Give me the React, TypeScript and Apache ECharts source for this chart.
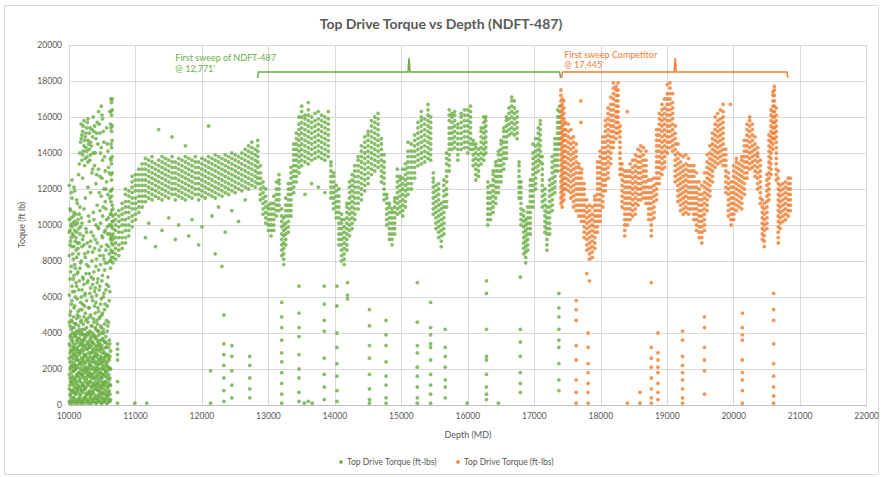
import React, { useEffect, useRef } from "react";
import * as echarts from "echarts";

// ---- DATA: each row = [depth (ft), torque readings (ft-lbs) seen at that depth ...]
const greenEarly: number[][] = [
  [10005, 200, 900, 1700, 2600, 3400, 4600, 6100, 8300, 9600, 10300, 12200],
  [10015, 100, 600, 1100, 1500, 2000, 2400, 2900, 3300, 3800, 4400, 5000, 7000, 8900, 9700, 10900],
  [10025, 500, 1300, 2100, 3000, 3900, 5200, 7400, 9100, 10000, 10800],
  [10035, 300, 800, 1300, 1800, 2200, 2700, 3100, 3700, 4200, 4700, 5600, 7700, 9300, 10400, 11800],
  [10045, 100, 800, 1500, 2400, 3600, 4300, 5800, 6600, 8800, 9900, 11500, 12500],
  [10055, 200, 700, 1200, 1600, 2100, 2600, 3000, 3500, 4000, 4600, 6300, 8400, 9500, 10100],
  [10065, 400, 1100, 1900, 2800, 3300, 4900, 7000, 8100, 9400, 10500],
  [10075, 400, 900, 1400, 1900, 2300, 2800, 3200, 3800, 4300, 5400, 7200, 8800, 10700, 12100],
  [10085, 200, 700, 1400, 2200, 3100, 4000, 5500, 6300, 7800, 9700, 10200, 11900],
  [10095, 100, 600, 1000, 1500, 2000, 2500, 2900, 3400, 3900, 4500, 6000, 7600, 9100, 10000],
  [10105, 600, 1200, 2000, 2700, 3800, 4500, 6800, 8600, 9300, 10600],
  [10115, 300, 800, 1300, 1700, 2200, 2700, 3100, 3600, 4100, 4800, 6600, 8200, 9600, 11400],
  [10125, 100, 900, 1600, 2500, 3200, 5000, 5900, 7300, 9000, 10100, 11200],
  [10135, 200, 700, 1100, 1600, 2100, 2500, 3000, 3500, 4000, 5200, 7400, 8700, 10300],
  [10145, 300, 1000, 1800, 2900, 3700, 4400, 6400, 8400, 9800, 12800],
  [10155, 400, 900, 1400, 1800, 2300, 2800, 3300, 3700, 4200, 4900, 6900, 9000, 10600, 13400],
  [10165, 500, 1300, 2300, 3000, 4100, 5300, 7600, 9500, 11000, 14000],
  [10175, 100, 600, 1000, 1500, 2000, 2400, 2900, 3400, 3900, 4600, 5700, 7900, 9900, 14600],
  [10185, 200, 800, 1700, 2600, 3500, 4700, 6000, 8000, 10400, 14800, 15600],
  [10195, 300, 800, 1200, 1700, 2200, 2600, 3100, 3600, 4000, 5300, 6400, 8800, 10100, 13600, 15000],
  [10205, 100, 1100, 1900, 2400, 3300, 4200, 5600, 7100, 9200, 12600, 13900, 15200],
  [10215, 200, 700, 1100, 1600, 2000, 2500, 3000, 3400, 3900, 4500, 7000, 9400, 14100, 15500],
  [10225, 400, 1000, 1500, 2800, 3600, 4900, 6700, 8900, 10900, 14400, 15800],
  [10235, 400, 900, 1300, 1800, 2300, 2700, 3200, 3700, 4200, 5500, 6100, 8400, 13300, 14700],
  [10245, 300, 900, 2100, 2700, 3900, 5100, 6200, 8200, 11500, 13700, 14900],
  [10255, 100, 500, 1000, 1500, 1900, 2400, 2800, 3300, 3800, 4700, 7300, 9800, 14300, 15100],
  [10265, 600, 1400, 2000, 3100, 4300, 5800, 7800, 9600, 14100, 15400],
  [10275, 300, 700, 1200, 1700, 2100, 2600, 3100, 3500, 4000, 4800, 6800, 9000, 13800, 15700],
  [10285, 200, 1200, 1800, 2500, 3400, 4600, 6900, 8500, 12100, 13500, 14700, 15900],
  [10295, 200, 600, 1100, 1600, 2000, 2500, 2900, 3400, 3900, 5400, 7700, 10500, 14500],
  [10305, 100, 700, 1600, 2300, 3200, 4000, 5400, 7300, 10200, 14200, 15100],
  [10315, 400, 800, 1300, 1800, 2200, 2700, 3200, 3600, 4100, 4900, 6200, 8800, 13600, 15400],
  [10325, 500, 1300, 2200, 2900, 3700, 5000, 6500, 9100, 11800, 13900, 14600],
  [10335, 100, 600, 1000, 1500, 2000, 2400, 2900, 3300, 3800, 4400, 7100, 9600, 14400],
  [10345, 300, 1000, 1700, 2600, 3500, 4400, 6000, 8000, 12900, 15300],
  [10355, 300, 700, 1200, 1700, 2100, 2600, 3000, 3500, 4000, 5800, 6700, 8500, 13100, 14900],
  [10365, 200, 800, 1500, 2400, 3100, 4800, 7000, 9400, 10700, 14000, 16000],
  [10375, 200, 600, 1100, 1500, 2000, 2500, 2900, 3400, 3900, 4600, 7400, 10300, 15200],
  [10385, 400, 1100, 1900, 2700, 3800, 5500, 6300, 8700, 13300, 15500],
  [10395, 400, 900, 1300, 1800, 2300, 2700, 3200, 3700, 4300, 5100, 6500, 9200, 14000],
  [10405, 100, 900, 1600, 2100, 3000, 4200, 5700, 7700, 10000, 12300, 14800],
  [10415, 100, 500, 1000, 1500, 1900, 2400, 2800, 3300, 3800, 4700, 6100, 8100, 12800, 15100],
  [10425, 300, 1200, 2000, 2800, 3600, 4500, 6800, 9000, 11100, 15700],
  [10435, 300, 800, 1200, 1700, 2200, 2600, 3100, 3500, 4100, 5400, 7000, 9900, 14500],
  [10445, 500, 800, 1400, 2300, 3300, 4100, 5200, 7500, 9800, 13100, 16300],
  [10455, 200, 600, 1100, 1600, 2000, 2500, 3000, 3400, 3900, 4800, 6400, 8600, 11800, 15600],
  [10465, 200, 1000, 1800, 2500, 3400, 4900, 6600, 8300, 10800, 12700, 15100],
  [10475, 400, 900, 1300, 1800, 2300, 2700, 3200, 3600, 4400, 5600, 7800, 10100, 14000],
  [10485, 100, 700, 1500, 2600, 3100, 4300, 5900, 8800, 11600, 14300, 16600],
  [10495, 100, 600, 1000, 1500, 2000, 2400, 2900, 3300, 4000, 5000, 6900, 9400, 12600, 16100],
  [10505, 400, 1100, 1700, 2200, 3700, 5100, 7200, 9300, 10500, 13600, 15900],
  [10515, 300, 700, 1200, 1700, 2100, 2600, 3100, 3600, 4200, 6000, 8300, 11000, 15200],
  [10525, 200, 900, 1300, 2400, 2900, 4000, 6200, 8100, 12000, 14600],
  [10535, 200, 600, 1100, 1600, 2000, 2500, 2900, 3500, 4500, 5300, 7500, 9600, 13800],
  [10545, 300, 1200, 1900, 2700, 3500, 5600, 7900, 9700, 11300, 13000],
  [10555, 400, 800, 1300, 1800, 2200, 2700, 3200, 3800, 6400, 8600, 10900, 12000],
  [10565, 100, 600, 1600, 2300, 3200, 4700, 6700, 8900, 10300, 12400, 15400],
  [10575, 100, 500, 1000, 1500, 1900, 2400, 2800, 3400, 4100, 5500, 7900, 9900, 14500],
  [10585, 500, 1000, 2100, 2800, 4400, 7100, 9500, 11700, 14100],
  [10595, 300, 700, 1200, 1700, 2100, 2600, 3200, 4600, 6600, 8800, 10400, 13200],
  [10605, 200, 800, 1400, 2500, 3600, 5800, 8400, 10000, 12900],
  [10615, 200, 600, 1100, 1500, 2000, 2700, 3400, 6300, 8000, 9500, 11500, 16300],
  [10625, 300, 1100, 2000, 3000, 7600, 9200, 10600, 11900, 13700, 15600],
  [10632, 8000, 8600, 9300, 10000, 10600, 11300, 11900, 12800, 13600, 14500, 15400, 16300, 17000],
  [10640, 8200, 9000, 9900, 10800, 11600, 12500, 13400, 14300, 15200, 16100, 16800],
  [10650, 8500, 9400, 10200, 11100, 12000, 12900, 13800, 14700, 15500, 16400, 17000],
];

const greenBand: number[][] = [
  [10660, 7900, 8200, 8500, 8900, 9200, 9500, 9800, 10200, 10500, 10900],
  [10700, 8100, 8400, 8700, 9000, 9300, 9700, 10000, 10300, 10600],
  [10750, 8300, 8600, 8900, 9300, 9600, 9900, 10200, 10500, 10800],
  [10800, 8700, 9000, 9300, 9600, 10000, 10300, 10600, 10900, 11200],
  [10850, 9000, 9300, 9700, 10000, 10300, 10700, 11000, 11300, 11700, 12000],
  [10900, 9400, 9700, 10000, 10400, 10700, 11000, 11300, 11600, 11900],
  [10950, 9900, 10200, 10500, 10900, 11200, 11500, 11800, 12100, 12400, 12700],
  [11000, 10300, 10600, 10900, 11200, 11500, 11900, 12200, 12500, 12800],
  [11050, 10700, 11000, 11300, 11600, 11900, 12200, 12500, 12800, 13100],
  [11100, 11000, 11300, 11600, 11900, 12200, 12500, 12800, 13100, 13400],
  [11150, 11300, 11600, 11900, 12200, 12500, 12800, 13100, 13400, 13700, 9300],
  [11200, 11500, 11800, 12100, 12400, 12700, 13000, 13300, 13600, 10100],
  [11250, 11400, 11700, 12000, 12300, 12600, 12900, 13200, 13500, 13800],
  [11300, 11600, 11900, 12200, 12500, 12800, 13100, 13400, 8800],
  [11350, 11500, 11800, 12100, 12400, 12700, 13000, 13300, 13600, 15300],
  [11400, 11400, 11700, 12000, 12300, 12600, 12900, 13200, 13500, 13800, 9700],
  [11450, 11600, 11900, 12200, 12500, 12800, 13100, 13400, 13700],
  [11500, 11500, 11800, 12100, 12400, 12700, 13000, 13300, 13600, 10400],
  [11550, 11700, 12000, 12300, 12600, 12900, 13200, 13500, 13800, 14900],
  [11600, 11400, 11700, 12000, 12300, 12600, 12900, 13200, 13500, 9200],
  [11650, 11600, 11900, 12200, 12500, 12800, 13100, 13400, 13700, 10000],
  [11700, 11500, 11800, 12100, 12400, 12700, 13000, 13300, 13600],
  [11750, 11400, 11700, 12000, 12300, 12600, 12900, 13200, 13500, 13800, 14400],
  [11800, 11600, 11900, 12200, 12500, 12800, 13100, 13400, 13700, 9400],
  [11850, 11500, 11800, 12100, 12400, 12700, 13000, 13300, 13600, 10300],
  [11900, 11700, 12000, 12300, 12600, 12900, 13200, 13500, 13800],
  [11950, 11400, 11700, 12000, 12300, 12600, 12900, 13200, 13500, 8900],
  [12000, 11600, 11900, 12200, 12500, 12800, 13100, 13400, 13700, 9900],
  [12050, 11500, 11800, 12100, 12400, 12700, 13000, 13300, 13600],
  [12100, 11700, 12000, 12300, 12600, 12900, 13200, 13500, 13800, 15500],
  [12150, 11600, 11900, 12200, 12500, 12800, 13100, 13400, 13700, 10500],
  [12200, 11500, 11800, 12100, 12400, 12700, 13000, 13300, 13600, 13900, 8400],
  [12250, 11700, 12000, 12300, 12600, 12900, 13200, 13500, 13800, 11000],
  [12300, 11600, 11900, 12200, 12500, 12800, 13100, 13400, 13700, 7700],
  [12350, 11800, 12100, 12400, 12700, 13000, 13300, 13600, 13900, 9600],
  [12400, 11700, 12000, 12300, 12600, 12900, 13200, 13500, 13800],
  [12450, 11900, 12200, 12500, 12800, 13100, 13400, 13700, 14000, 10800],
  [12500, 11800, 12100, 12400, 12700, 13000, 13300, 13600, 13900],
  [12550, 12000, 12300, 12600, 12900, 13200, 13500, 13800, 10200],
  [12600, 11900, 12200, 12500, 12800, 13100, 13400, 13700, 14000],
  [12650, 12100, 12400, 12700, 13000, 13300, 13600, 13900, 14200, 11400],
  [12700, 12000, 12300, 12600, 12900, 13200, 13500, 13800, 14100, 14400],
  [12750, 12200, 12500, 12800, 13100, 13400, 13700, 14000, 14300, 14600],
  [12800, 12100, 12400, 12700, 13000, 13300, 13600, 13900, 14200],
  [12840, 12300, 12600, 12900, 13200, 13500, 13800, 14100, 14400, 14700],
  [12880, 11400, 11700, 12000, 12300, 12600, 12900, 13300],
  [12920, 10600, 10900, 11200, 11500, 11800, 12100, 12400],
  [12960, 10100, 10400, 10700, 11000, 11300, 11600, 12000],
  [13000, 9700, 10000, 10300, 10600, 10900, 11100],
  [13040, 9400, 9700, 10000, 10300, 10600, 10900, 11200],
  [13080, 9700, 10000, 10300, 10600, 10900, 11200, 11600],
  [13120, 10500, 10800, 11100, 11400, 11700, 12000, 12400],
  [13160, 10800, 11100, 11400, 11700, 12000, 12300, 12500, 12800],
  [13200, 8300, 8600, 8900, 9200, 9500, 9900, 10200, 10500, 10900],
  [13230, 7800, 8100, 8400, 8700, 9000, 9400, 9700, 10000, 10400],
  [13260, 8900, 9200, 9500, 9800, 10100, 10500, 10800, 11100, 11500],
  [13300, 9600, 9900, 10200, 10500, 10800, 11100, 11400, 11700, 12000, 12300],
  [13340, 10500, 10800, 11100, 11400, 11700, 12000, 12300, 12600, 12900, 13200],
  [13380, 11800, 12100, 12400, 12700, 13000, 13300, 13600, 13900, 14200, 14500],
  [13420, 12400, 12700, 13000, 13300, 13600, 13900, 14200, 14500, 14800, 15100],
  [13460, 12900, 13200, 13500, 13800, 14100, 14400, 14700, 15000, 15300, 15600, 16000],
  [13500, 13300, 13600, 13900, 14200, 14500, 14800, 15100, 15400, 15700, 16000, 16300, 16600],
  [13550, 13500, 13800, 14100, 14400, 14700, 15000, 15300, 15600, 15900, 16100, 11700],
  [13600, 13400, 13700, 14000, 14300, 14600, 14900, 15200, 15500, 15800, 16100, 16400, 16800],
  [13650, 13600, 13900, 14200, 14500, 14800, 15100, 15400, 15700, 16000, 12300],
  [13700, 13700, 14000, 14300, 14600, 14900, 15200, 15500, 15800, 16200],
  [13750, 13800, 14100, 14400, 14700, 15000, 15300, 15600, 15900, 16300, 12100],
  [13800, 13700, 14000, 14300, 14600, 14900, 15200, 15500, 15800, 16100],
  [13850, 13600, 13900, 14200, 14500, 14800, 15100, 15400, 15700, 16000, 11800],
  [13900, 13800, 14100, 14400, 14700, 15000, 15300, 15600, 15900, 16300],
  [13940, 11500, 11800, 12100, 12400, 12700, 13000, 13300, 13500],
  [13980, 10900, 11200, 11500, 11800, 12100, 12400, 12700, 12900],
  [14020, 10400, 10700, 11000, 11300, 11600, 11900, 12200],
  [14060, 8900, 9200, 9500, 9800, 10100, 10400, 10700, 11000, 11300, 11600, 12000],
  [14100, 8000, 8300, 8600, 8900, 9200, 9500, 9800, 10100, 10300, 10600],
  [14140, 7800, 8100, 8400, 8700, 9000, 9300, 9600, 9900, 10300],
  [14180, 8600, 8900, 9200, 9500, 9800, 10100, 10400, 10700, 11000, 11200],
  [14220, 9400, 9700, 10000, 10300, 10600, 10900, 11200, 11500, 11800, 12100, 12400],
  [14260, 9800, 10100, 10400, 10700, 11000, 11300, 11600, 11900, 12200, 12500, 12800],
  [14300, 10300, 10600, 10900, 11200, 11500, 11800, 12100, 12400, 12700, 13000, 13300],
  [14350, 10900, 11200, 11500, 11800, 12100, 12400, 12700, 13000, 13300, 13600, 13800],
  [14400, 11400, 11700, 12000, 12300, 12600, 12900, 13200, 13500, 13800, 14100, 14400],
  [14450, 11900, 12200, 12500, 12800, 13100, 13400, 13700, 14000, 14300, 14600, 14900],
  [14500, 12300, 12600, 12900, 13200, 13500, 13800, 14100, 14400, 14700, 15000, 15200],
  [14550, 12800, 13100, 13400, 13700, 14000, 14300, 14600, 14900, 15200, 15500, 15800],
  [14600, 13000, 13300, 13600, 13900, 14200, 14500, 14800, 15100, 15400, 15700, 16000],
  [14650, 13200, 13500, 13800, 14100, 14400, 14700, 15000, 15300, 15600, 15900, 16200],
  [14700, 12400, 12700, 13000, 13300, 13600, 13900, 14200, 14500, 14800],
  [14740, 11400, 11700, 12000, 12300, 12600, 12900, 13200, 13500, 13900],
  [14780, 10000, 10300, 10600, 10900, 11200, 11500, 11700],
  [14820, 9200, 9500, 9800, 10100, 10400, 10700, 11000, 11200],
  [14860, 8900, 9200, 9500, 9800, 10100, 10400, 10700, 10900],
  [14900, 9500, 9800, 10100, 10400, 10700, 11000, 11300, 11500],
  [14940, 10600, 10900, 11200, 11500, 11800, 12100, 12400, 12700, 13100],
  [14980, 10700, 11000, 11300, 11600, 11900, 12200, 12500, 12700],
  [15020, 10500, 10800, 11100, 11400, 11700, 12000, 12300, 12600, 13100],
  [15060, 11000, 11300, 11600, 11900, 12200, 12500, 12800, 13100, 13400],
  [15100, 11700, 12000, 12300, 12600, 12900, 13200, 13500, 13800, 14100, 14600],
  [15150, 12000, 12300, 12600, 12900, 13200, 13500, 13800, 14100, 14500],
  [15200, 12600, 12900, 13200, 13500, 13800, 14100, 14400, 14700, 15000],
  [15250, 13300, 13600, 13900, 14200, 14500, 14800, 15100, 15400, 15700],
  [15300, 13400, 13700, 14000, 14300, 14600, 14900, 15200, 15500, 15800, 16000, 16300],
  [15350, 13500, 13800, 14100, 14400, 14700, 15000, 15300, 15600, 15900],
  [15400, 13700, 14000, 14300, 14600, 14900, 15200, 15500, 15800, 16100, 16400, 16700],
  [15440, 13600, 13900, 14200, 14500, 14800, 15100, 15400, 15700, 16000],
  [15480, 10600, 10900, 11200, 11500, 11800, 12100, 12400, 12600, 12900],
  [15520, 9800, 10100, 10400, 10700, 11000, 11300, 11600, 11900, 12200],
  [15560, 9300, 9600, 9900, 10200, 10500, 10800, 11100, 11400, 11700, 12000, 12300],
  [15600, 8800, 9100, 9400, 9700, 10000, 10300, 10600, 10900, 11200],
  [15640, 9500, 9800, 10100, 10400, 10700, 11000, 11300, 11600, 11900, 12200, 12500],
  [15680, 11000, 11300, 11700, 12000, 12400, 12700, 13000, 13400, 13700, 14000],
  [15720, 13000, 13300, 13600, 13900, 14200, 14500, 14800, 15100, 15400, 15800, 16100, 16400],
  [15760, 14200, 14500, 14800, 15100, 15400, 15700, 16000, 16200],
  [15800, 14300, 14600, 14900, 15200, 15500, 15800, 16100, 16300],
  [15850, 13600, 13900, 14200, 14500, 14800, 15100, 15400, 15600],
  [15900, 14200, 14500, 14800, 15100, 15400, 15700, 16000, 16200],
  [15950, 14300, 14600, 14900, 15200, 15500, 15800, 16100, 16400],
  [16000, 14000, 14300, 14600, 14900, 15200, 15500, 15800, 16100, 16400],
  [16040, 14200, 14500, 14800, 15100, 15400, 15700, 16000, 16300, 16600],
  [16080, 13300, 13600, 13900, 14200, 14500, 14700],
  [16120, 12500, 12800, 13100, 13400, 13700, 14000, 14300, 14500],
  [16160, 12700, 13000, 13300, 13600, 13900, 14200],
  [16200, 13400, 13700, 14000, 14300, 14600, 14900, 15200, 15400],
  [16240, 13600, 13900, 14200, 14500, 14800, 15100, 15400, 15700, 16000],
  [16270, 14000, 14300, 14600, 14900, 15200, 15500, 15800, 16000],
  [16300, 10000, 10300, 10600, 10900, 11200, 11500, 11800, 12100, 12400],
  [16340, 10300, 10600, 10900, 11200, 11500, 11800, 12200],
  [16380, 10700, 11000, 11300, 11600, 11900, 12200, 12500, 12800, 13000],
  [16420, 11200, 11500, 11800, 12100, 12400, 12700, 13000, 13300, 13500],
  [16460, 11800, 12100, 12400, 12700, 13000, 13300, 13600, 13900, 14100],
  [16500, 12400, 12700, 13000, 13300, 13600, 13900, 14200, 14500, 14700],
  [16540, 13100, 13400, 13700, 14000, 14300, 14600, 14900, 15200, 15400],
  [16580, 13700, 14000, 14300, 14600, 14900, 15200, 15500, 15800, 16000],
  [16620, 15000, 15300, 15600, 15900, 16200, 16500],
  [16660, 15100, 15400, 15700, 16000, 16300, 16600, 16900, 17100],
  [16700, 15000, 15300, 15600, 15900, 16200, 16500, 16900],
  [16740, 14800, 15100, 15400, 15700, 16000, 16300],
  [16770, 11500, 11800, 12100, 12400, 12700, 13000, 13300, 13500],
  [16800, 10000, 10300, 10600, 10900, 11200, 11500, 11800, 12100, 12400],
  [16840, 8400, 8700, 9000, 9300, 9600, 9900, 10200, 10500, 10800],
  [16870, 7900, 8200, 8500, 8800, 9100, 9400, 9700, 10000, 10300],
  [16900, 8600, 8900, 9200, 9500, 9800, 10100, 10400, 10700, 11000],
  [16940, 9500, 9800, 10100, 10400, 10700, 11000, 11300, 11600, 11900, 12200, 12500],
  [16980, 11000, 11300, 11600, 11900, 12200, 12500, 12800, 13100, 13400, 13700, 14000, 14500],
  [17020, 12000, 12300, 12600, 12900, 13200, 13500, 13800, 14100, 14400, 14800],
  [17060, 13000, 13300, 13600, 13900, 14200, 14500, 14800, 15100, 15400],
  [17090, 13500, 13800, 14100, 14400, 14700, 15000, 15300, 15600, 15800],
  [17120, 11000, 11300, 11600, 11900, 12200, 12500, 12800, 13100, 13400, 13800],
  [17160, 9600, 9900, 10200, 10500, 10800, 11100, 11400, 11700, 12000],
  [17190, 8600, 8900, 9200, 9500, 9800, 10100, 10400, 10700, 11000],
  [17230, 9500, 9800, 10100, 10400, 10700, 11000, 11300, 11600, 11900, 12200, 12500],
  [17270, 10800, 11100, 11400, 11700, 12000, 12300, 12600, 12900, 13200, 13500, 13800],
  [17310, 11800, 12100, 12400, 12700, 13000, 13300, 13600, 13900, 14200, 14500, 14800],
  [17350, 13000, 13300, 13600, 13900, 14200, 14500, 14800, 15100, 15400, 15700, 16000, 16400],
  [17380, 14500, 14800, 15100, 15400, 15700, 16000, 16300, 16600],
];

const greenLow: number[][] = [
  [10730, 3400, 3100, 2800, 2500, 1300, 700, 100],
  [10990, 100],
  [11170, 100],
  [12130, 100, 1900],
  [12330, 200, 800, 1500, 2200, 2800, 3400, 5000],
  [12450, 400, 1100, 1900, 2700, 3300],
  [12720, 400, 900, 1500, 2200, 2700],
  [13200, 5700, 4900, 4300, 3600, 2900, 2400, 1800, 1200, 600, 100],
  [13460, 6600, 5100, 4300, 3800, 2800, 2000, 1500, 700, 200],
  [13540, 100], [13600, 200], [13660, 100],
  [13840, 6600, 5600, 4700, 4100, 2600, 1700, 1000, 300],
  [14030, 6600, 5500, 4000, 3200, 2300, 1600, 800, 200],
  [14190, 6800, 6100, 5900],
  [14520, 5300, 4400, 3300, 2600, 1700, 900, 300, 100],
  [14770, 4700, 3900, 3300, 2400, 1600, 1100, 400, 100],
  [15240, 6800, 4600, 3300, 2900, 2100, 1600, 1000, 400, 100],
  [15440, 5700, 4300, 3900, 3400, 3200, 2500, 1700, 1100, 600, 100],
  [15660, 4200, 3200, 2700, 2100, 1400, 1000, 400],
  [15990, 100],
  [16280, 6900, 6200, 4200, 2700, 2500, 1700, 1000, 600, 300],
  [16460, 100],
  [16790, 7100, 4200, 3500, 2700, 1800, 1200, 700],
  [17370, 6200, 5400, 4900, 4200, 3600, 3200, 2300, 1400, 800],
];

const orangeBand: number[][] = [
  [17400, 11200, 11500, 11800, 12100, 12400, 12700, 13000, 13300, 13600, 13900, 14200, 14500, 14800, 15100, 15400, 15700, 16000, 16300, 16600, 16900, 17200, 17500],
  [17420, 11000, 11300, 11600, 11900, 12200, 12500, 12800, 13100, 13400, 13700, 14000, 14300, 14600, 14900, 15200, 15500, 15800, 16100, 16400, 16700, 17000],
  [17445, 11400, 11700, 12000, 12300, 12600, 12900, 13200, 13500, 13800, 14100, 14400, 14700, 15000, 15300, 15600, 15900, 16200, 16500, 16900],
  [17470, 12000, 12300, 12600, 12900, 13200, 13500, 13800, 14100, 14400, 14700, 15000, 15300, 15700],
  [17510, 11900, 12200, 12500, 12800, 13100, 13400, 13700, 14000, 14300, 14600, 14900, 15200, 15600],
  [17550, 11500, 11800, 12100, 12400, 12700, 13000, 13300, 13600, 13900, 14200, 14500, 14800, 15300],
  [17590, 11000, 11300, 11600, 11900, 12200, 12500, 12800, 13100, 13400, 13700, 14000, 14300, 14600, 14900],
  [17630, 10800, 11100, 11400, 11700, 12000, 12300, 12600, 12900, 13200, 13500, 13800, 14100, 14500],
  [17670, 10500, 10800, 11100, 11400, 11700, 12000, 12300, 12600, 12900, 13200, 13400],
  [17710, 10200, 10500, 10800, 11100, 11400, 11700, 12000, 12300, 12600, 12900, 13100],
  [17750, 9300, 9600, 9900, 10200, 10500, 10800, 11100, 11400, 11700, 12000, 12300],
  [17790, 8600, 8900, 9200, 9500, 9800, 10100, 10400, 10700, 11000, 11400, 7300],
  [17830, 8100, 8400, 8700, 9000, 9300, 9600, 9900, 10200, 10500, 10800, 11100, 6900],
  [17870, 8200, 8500, 8800, 9100, 9400, 9700, 10000, 10300, 10600, 11000],
  [17910, 8700, 9000, 9300, 9600, 9900, 10200, 10500, 10800, 11100, 11400, 11600],
  [17950, 9600, 9900, 10200, 10500, 10800, 11100, 11400, 11700, 12000, 12300, 12600, 12900, 13200, 13500],
  [17990, 10200, 10500, 10800, 11100, 11400, 11700, 12000, 12300, 12600, 12900, 13200, 13500, 13800, 14100],
  [18030, 11000, 11300, 11600, 11900, 12200, 12500, 12800, 13100, 13400, 13700, 14000, 14300, 14600, 14900],
  [18070, 11900, 12200, 12500, 12800, 13100, 13400, 13700, 14000, 14300, 14600, 14900, 15200, 15500, 15800],
  [18110, 12600, 12900, 13200, 13500, 13800, 14100, 14400, 14700, 15000, 15300, 15600, 15900, 16200, 16500],
  [18150, 13400, 13700, 14000, 14300, 14600, 14900, 15200, 15500, 15800, 16100, 16400, 16700, 17100],
  [18190, 14300, 14600, 14900, 15200, 15500, 15800, 16100, 16400, 16700, 17000, 17300, 17600, 17900],
  [18230, 14800, 15100, 15400, 15700, 16000, 16300, 16600, 16900, 17200, 17500, 17700],
  [18260, 15100, 15400, 15700, 16000, 16300, 16600, 16900, 17200, 17500, 17900],
  [18290, 12800, 13100, 13400, 13700, 14000, 14300, 14600, 14900, 15200, 15500],
  [18320, 11000, 11300, 11600, 11900, 12200, 12500, 12800, 13100, 13400],
  [18360, 9400, 9700, 10000, 10300, 10600, 10900, 11200, 11500, 11800, 12100, 12400, 12700, 13000],
  [18400, 10000, 10300, 10600, 10900, 11200, 11500, 11800, 12100, 12400, 12700, 13000, 16300],
  [18440, 10300, 10600, 10900, 11200, 11500, 11800, 12100, 12400, 12700, 13000, 13400],
  [18480, 10500, 10800, 11100, 11400, 11700, 12000, 12300, 12600, 12900, 13200, 13600],
  [18520, 10600, 10900, 11200, 11500, 11800, 12100, 12400, 12700, 13000, 13300, 13600, 13900],
  [18560, 11100, 11400, 11700, 12000, 12300, 12600, 12900, 13200, 13500, 13800, 14200],
  [18600, 11400, 11700, 12000, 12300, 12600, 12900, 13200, 13500, 13800, 14100, 14400],
  [18640, 11500, 11800, 12100, 12400, 12700, 13000, 13300, 13600, 13900, 14300],
  [18680, 11200, 11500, 11800, 12100, 12400, 12700, 13000, 13300, 13600, 14100],
  [18720, 10300, 10600, 10900, 11200, 11500, 11800, 12100, 12500],
  [18760, 9400, 9700, 10000, 10300, 10600, 10900, 11200, 11500, 11800, 12100, 12500, 6800],
  [18800, 10400, 10700, 11000, 11300, 11600, 11900, 12200, 12600],
  [18840, 11400, 11700, 12000, 12300, 12600, 12900, 13200, 13500, 13800, 14100, 14400, 14700, 15000, 15300],
  [18880, 12300, 12600, 12900, 13200, 13500, 13800, 14100, 14400, 14700, 15000, 15300, 15600, 15900, 16200],
  [18920, 12800, 13100, 13400, 13700, 14000, 14300, 14600, 14900, 15200, 15500, 15800, 16100, 16400, 16700],
  [18960, 13200, 13500, 13800, 14100, 14400, 14700, 15000, 15300, 15600, 15900, 16200, 16500, 17000],
  [19000, 14000, 14300, 14600, 14900, 15200, 15500, 15800, 16100, 16400, 16700, 17000, 17300, 17800],
  [19040, 14300, 14600, 14900, 15200, 15500, 15800, 16100, 16400, 16700, 17000, 17300, 17600, 17900],
  [19080, 14100, 14400, 14700, 15000, 15300, 15600, 15900, 16200, 16500, 16800, 17300],
  [19120, 12400, 12700, 13000, 13300, 13600, 13900, 14200, 14500, 14800, 15100, 15500],
  [19160, 11300, 11600, 11900, 12200, 12500, 12800, 13100, 13400, 13700, 14000, 14500],
  [19200, 10800, 11100, 11400, 11700, 12000, 12300, 12600, 12900, 13200, 13500, 13900],
  [19240, 10600, 10900, 11200, 11500, 11800, 12100, 12400, 12700, 13000, 13300, 13800],
  [19280, 10700, 11000, 11300, 11600, 11900, 12200, 12500, 12800, 13100, 13400, 13900],
  [19320, 10600, 10900, 11200, 11500, 11800, 12100, 12400, 12700, 13000, 13300, 13700],
  [19360, 10900, 11200, 11500, 11800, 12100, 12400, 12700, 13000, 13300],
  [19400, 10300, 10600, 10900, 11200, 11500, 11800, 12100, 12400, 12700, 13000, 13300],
  [19440, 9700, 10000, 10300, 10600, 10900, 11200, 11500, 11800, 12100, 12400, 12900],
  [19480, 9300, 9600, 9900, 10200, 10500, 10800, 11100, 11400, 11700, 12000, 12400],
  [19520, 9000, 9300, 9600, 9900, 10200, 10500, 10800, 11100, 11400, 11700, 12200],
  [19560, 9700, 10000, 10300, 10600, 10900, 11200, 11500, 11800, 12100, 12400, 12900],
  [19600, 10800, 11100, 11400, 11700, 12000, 12300, 12600, 12900, 13200, 13500, 13900],
  [19640, 11600, 11900, 12200, 12500, 12800, 13100, 13400, 13700, 14000, 14400],
  [19680, 12400, 12700, 13000, 13300, 13600, 13900, 14200, 14500, 14800, 15100],
  [19720, 13200, 13500, 13800, 14100, 14400, 14700, 15000, 15300, 15600, 16000],
  [19760, 13400, 13700, 14000, 14300, 14600, 14900, 15200, 15500, 15800, 16200],
  [19800, 13500, 13800, 14100, 14400, 14700, 15000, 15300, 15600, 15900, 16400],
  [19840, 13300, 13600, 13900, 14200, 14500, 14800, 15100, 15400, 15700, 16000, 16300, 16700],
  [19880, 11800, 12100, 12400, 12700, 13000, 13300, 13600, 13900, 14200],
  [19920, 10500, 10800, 11100, 11400, 11700, 12000, 12300, 12600, 12900],
  [19960, 10000, 10300, 10600, 10900, 11200, 11500, 11800, 12100, 12400],
  [20000, 10300, 10600, 10900, 11200, 11500, 11800, 12100, 12400, 12700, 13000, 13300],
  [20040, 10800, 11100, 11400, 11700, 12000, 12300, 12600, 12900, 13200, 13500, 13700],
  [20080, 11000, 11300, 11600, 11900, 12200, 12500, 12800, 13100, 13400],
  [20120, 10900, 11200, 11500, 11800, 12100, 12400, 12700, 13000, 13300, 13600, 13800],
  [20160, 11700, 12000, 12300, 12600, 12900, 13200, 13500, 13800, 14100, 14400, 14700],
  [20200, 12600, 12900, 13200, 13500, 13800, 14100, 14400, 14700, 15000, 15300, 15600],
  [20240, 13100, 13400, 13700, 14000, 14300, 14600, 14900, 15200, 15500, 15800, 16000],
  [20280, 13200, 13500, 13800, 14100, 14400, 14700, 15000, 15300, 15600],
  [20320, 12700, 13000, 13300, 13600, 13900, 14200, 14500, 14900],
  [20360, 12000, 12300, 12600, 12900, 13200, 13500, 13800, 14000, 14300],
  [20400, 11200, 11500, 11800, 12100, 12400, 12700, 13000, 13300, 13600],
  [20430, 9200, 9500, 9800, 10100, 10400, 10700, 11000, 11400],
  [20460, 8800, 9100, 9400, 9700, 10000, 10300, 10600, 10900, 11200],
  [20500, 9800, 10100, 10400, 10700, 11000, 11300, 11600, 11900, 12200, 12500, 12800],
  [20530, 11400, 11700, 12000, 12300, 12600, 12900, 13200, 13500, 13800, 14100, 14400, 14700, 15000],
  [20560, 12800, 13100, 13400, 13700, 14000, 14300, 14600, 14900, 15200, 15500, 15800, 16100, 16400],
  [20590, 14200, 14500, 14800, 15100, 15400, 15700, 16000, 16300, 16600, 16900, 17200, 17400],
  [20610, 14800, 15100, 15400, 15700, 16000, 16300, 16600, 16900, 17200, 17500, 17700],
  [20640, 12500, 12800, 13100, 13400, 13700, 14000, 14300, 14600, 14900, 15200, 15500, 15800, 16100, 16500],
  [20670, 9000, 9300, 9600, 9900, 10200, 10500, 10800, 11100, 11400, 11700, 12000, 12300, 12600, 13000],
  [20700, 9800, 10100, 10400, 10700, 11000, 11300, 11600, 11900, 12200],
  [20740, 10200, 10500, 10800, 11100, 11400, 11700, 12000, 12300],
  [20780, 10300, 10600, 10900, 11200, 11500, 11800, 12100, 12400],
  [20820, 10500, 10800, 11100, 11400, 11700, 12000, 12300, 12600],
  [20850, 10800, 11100, 11400, 11700, 12000, 12300, 12600],
];

const orangeLow: number[][] = [
  [17630, 5800, 5300, 4700, 3300, 2500, 1400, 700, 100],
  [17700, 16900, 15700],
  [17810, 4000, 3200, 2300, 1800, 1200, 700, 100],
  [18400, 100],
  [18590, 100, 700],
  [18760, 3200, 2600, 2100, 1500, 900, 400, 100],
  [18860, 4000, 2900, 2500, 2100, 1800, 1200, 700, 300],
  [19230, 4100, 3600, 2700, 2200, 1800, 1400, 900, 400, 100],
  [19560, 4900, 4300, 3200, 2500, 1900, 600],
  [19950, 16700],
  [20130, 5100, 4300, 3900, 3600, 2500, 1800, 1400, 800, 100],
  [20600, 6200, 5300, 4700, 3400, 2300, 1600, 1000, 500, 100],
];

// Axis ticks
const xTicks = { min: 10000, max: 22000, step: 1000 };
const yTicks = { min: 0, max: 20000, step: 2000 };

const TITLE = "Top Drive Torque vs Depth (NDFT-487)";
const X_NAME = "Depth (MD)";
const Y_NAME = "Toque (ft lb)";
const LEGEND_NAMES = ["Top Drive Torque (ft-lbs)", "Top Drive Torque (ft-lbs)"];
const NOTE_GREEN = ["First sweep of NDFT-487", "@ 12,771'"];
const NOTE_ORANGE = ["First sweep Competitor", "@ 17,445'"];

const GREEN = "#6aae43";
const ORANGE = "#ee7d31";
const FONT = "Lato, 'Open Sans', sans-serif";

function flatten(cols: number[][]): number[][] {
  const out: number[][] = [];
  for (const c of cols) for (let i = 1; i < c.length; i++) out.push([c[0], c[i]]);
  return out;
}

export default function App() {
  const ref = useRef<HTMLDivElement>(null);
  useEffect(() => {
    if (!ref.current) return;
    const chart = echarts.init(ref.current, undefined, { renderer: "svg" });
    const greenData = [...flatten(greenEarly), ...flatten(greenBand), ...flatten(greenLow)];
    const orangeData = [...flatten(orangeBand), ...flatten(orangeLow)];
    chart.setOption({
      animation: false,
      backgroundColor: "#ffffff",
      title: {
        text: TITLE,
        left: "center",
        top: 11,
        textStyle: { fontSize: 14, fontWeight: "bold", color: "#595959", fontFamily: FONT },
      },
      grid: { left: 69, right: 13, top: 45, bottom: 72 },
      xAxis: {
        type: "value",
        min: xTicks.min,
        max: xTicks.max,
        interval: xTicks.step,
        name: X_NAME,
        nameLocation: "middle",
        nameGap: 25,
        nameTextStyle: { fontSize: 9, color: "#595959", fontFamily: FONT },
        axisLine: { show: true, lineStyle: { color: "#bfbfbf" } },
        axisTick: { show: false },
        axisLabel: { fontSize: 8.5, color: "#595959", fontFamily: FONT, margin: 6, formatter: (v: number) => String(v) },
        splitLine: { show: true, lineStyle: { color: "#d9d9d9", width: 1 } },
      },
      yAxis: {
        type: "value",
        min: yTicks.min,
        max: yTicks.max,
        interval: yTicks.step,
        name: Y_NAME,
        nameLocation: "middle",
        nameGap: 36,
        nameTextStyle: { fontSize: 9, color: "#595959", fontFamily: FONT },
        axisLine: { show: false },
        axisTick: { show: false },
        axisLabel: { fontSize: 8.5, color: "#595959", fontFamily: FONT, margin: 7, formatter: (v: number) => String(v) },
        splitLine: { show: true, lineStyle: { color: "#d9d9d9", width: 1 } },
      },
      series: [
        { type: "scatter", name: LEGEND_NAMES[0], data: greenData, symbolSize: 3.8, itemStyle: { color: GREEN } },
        { type: "scatter", name: LEGEND_NAMES[1] + " ", data: orangeData, symbolSize: 3.8, itemStyle: { color: ORANGE } },
      ],
    });

    const px = (x: number, y: number) => chart.convertToPixel({ gridIndex: 0 }, [x, y]) as number[];
    const bracket = (x1: number, xp: number, x2: number, color: string) => {
      const yb = 18500, yt = 18170, yp = 19280;
      const a = px(x1, yt), b = px(x1, yb), c = px(xp, yb), d = px(xp, yp), e = px(x2, yb), f = px(x2, yt);
      return {
        type: "polyline",
        shape: { points: [a, [b[0] + 1, b[1]], [c[0] - 1, c[1]], d, [c[0] + 1, c[1]], [e[0] - 1, e[1]], f] },
        style: { stroke: color, lineWidth: 1.5, fill: "none" },
        silent: true,
      };
    };
    const gt1 = px(11600, 19300), gt2 = px(11600, 18700);
    const ot1 = px(17450, 19500), ot2 = px(17450, 18900);
    const noteStyle = (color: string) => ({ fill: color, fontSize: 9, fontFamily: FONT, textVerticalAlign: "middle" });
    chart.setOption({
      graphic: [
        { type: "rect", shape: { x: 4.5, y: 5.5, width: 874, height: 469 }, style: { stroke: "#d9d9d9", fill: "none", lineWidth: 1 }, silent: true, z: -10 },
        bracket(12835, 15115, 17395, GREEN),
        bracket(17410, 19120, 20815, ORANGE),
        { type: "text", x: gt1[0], y: gt1[1], style: { text: NOTE_GREEN[0], ...noteStyle(GREEN) } },
        { type: "text", x: gt2[0], y: gt2[1], style: { text: NOTE_GREEN[1], ...noteStyle(GREEN) } },
        { type: "text", x: ot1[0], y: ot1[1], style: { text: NOTE_ORANGE[0], ...noteStyle(ORANGE) } },
        { type: "text", x: ot2[0], y: ot2[1], style: { text: NOTE_ORANGE[1], ...noteStyle(ORANGE) } },
        { type: "circle", shape: { cx: 341, cy: 462, r: 1.8 }, style: { fill: GREEN } },
        { type: "text", x: 347, y: 462, style: { text: LEGEND_NAMES[0], fill: "#595959", fontSize: 8.5, fontFamily: FONT, textVerticalAlign: "middle" } },
        { type: "circle", shape: { cx: 458, cy: 462, r: 1.8 }, style: { fill: ORANGE } },
        { type: "text", x: 464, y: 462, style: { text: LEGEND_NAMES[1], fill: "#595959", fontSize: 8.5, fontFamily: FONT, textVerticalAlign: "middle" } },
      ],
    });
    return () => chart.dispose();
  }, []);
  return <div ref={ref} style={{ position: "absolute", left: 0, top: 0, width: 882, height: 477, background: "#fff" }} />;
}
